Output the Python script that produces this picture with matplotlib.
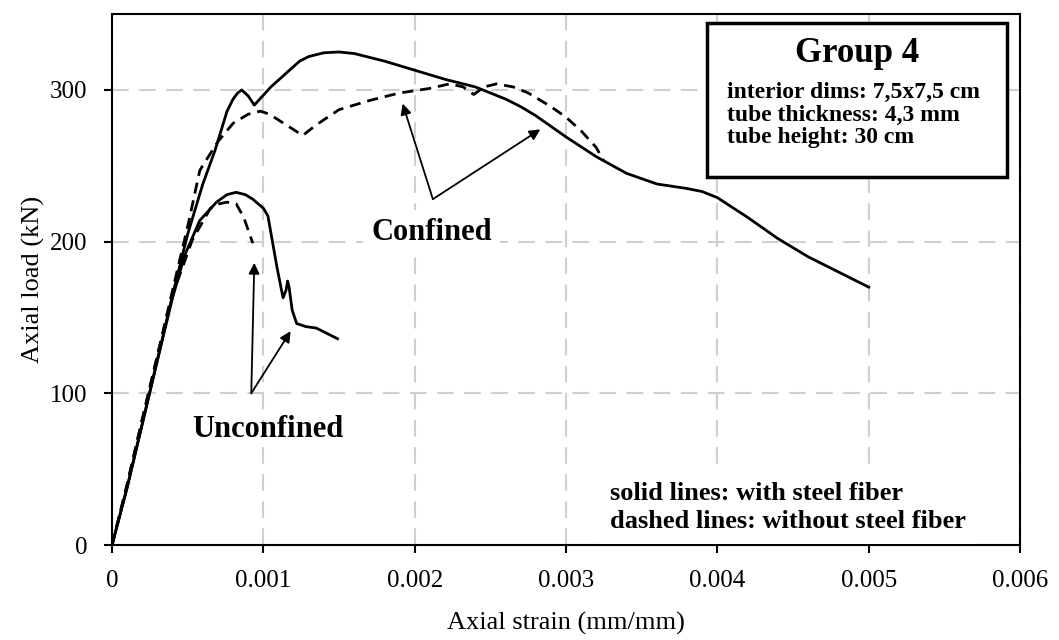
import matplotlib.pyplot as plt
from matplotlib.patches import Rectangle

plt.rcParams['font.family'] = ['Liberation Serif', 'DejaVu Serif']

# confined, with steel fiber (solid)
conf_sf_x = [0, 0.0001, 0.0002, 0.0003, 0.0004, 0.0005, 0.0006, 0.00068, 0.00076, 0.0008,
             0.00083, 0.000857, 0.0009, 0.00094, 0.00105, 0.00115, 0.00124, 0.0013, 0.0014,
             0.0015, 0.0016, 0.0018, 0.002, 0.0022, 0.0024, 0.0026, 0.0027, 0.0028, 0.003,
             0.0032, 0.0034, 0.0036, 0.0038, 0.0039, 0.004, 0.0042, 0.0044, 0.0046, 0.0048,
             0.005]
conf_sf_y = [0, 38, 80, 122, 165, 205, 238, 260, 286, 294,
             298, 300, 296, 290, 302, 311, 319, 322, 324.5,
             325, 324, 319, 313, 307, 302, 294, 289, 283, 269,
             256, 245, 238, 235, 233, 229, 216, 202, 190, 180,
             170]

# confined, without steel fiber (dashed)
conf_x = [0, 0.0001, 0.0002, 0.0003, 0.0004, 0.0005, 0.00058, 0.0007, 0.0008, 0.0009,
          0.00098, 0.00104, 0.00115, 0.00126, 0.00135, 0.0015, 0.0017, 0.0019, 0.0021,
          0.00223, 0.00232, 0.00239, 0.00246, 0.00254, 0.00265, 0.00275, 0.0029, 0.003,
          0.0031, 0.0032, 0.00325]
conf_y = [0, 40, 83, 125, 168, 210, 247, 266, 278, 284,
          286, 284, 277, 270, 277, 287, 293, 298, 301,
          304, 302, 297, 302, 304, 302, 298, 289, 282,
          273, 262, 253]

# unconfined, with steel fiber (solid)
unc_sf_x = [0, 0.0001, 0.0002, 0.0003, 0.0004, 0.00048, 0.00058, 0.00069, 0.00076, 0.00082,
            0.00088, 0.00093, 0.001, 0.00103, 0.00106, 0.00109, 0.00113, 0.00115, 0.00116,
            0.00117, 0.00119, 0.00122, 0.00128, 0.00135, 0.00149]
unc_sf_y = [0, 38, 80, 122, 163, 191, 214, 226, 231, 232.5,
            231, 228, 222, 217, 200, 183, 163, 168, 174,
            170, 155, 146, 144, 143, 136]

# unconfined, without steel fiber (dashed)
unc_x = [0, 0.0001, 0.0002, 0.0003, 0.0004, 0.00053, 0.00065, 0.00071, 0.00076, 0.00082,
         0.00087, 0.00093]
unc_y = [0, 40, 83, 125, 165, 201, 222, 225, 226, 225,
         216, 199]

xticks = [0, 0.001, 0.002, 0.003, 0.004, 0.005, 0.006]
xtick_labels = ['0', '0.001', '0.002', '0.003', '0.004', '0.005', '0.006']
yticks = [0, 100, 200, 300]

fig = plt.figure(figsize=(10.59, 6.40), dpi=100)
ax = fig.add_axes([0.1058, 0.1484, 0.8574, 0.8296])

lw = 2.0
ax.plot(conf_sf_x, conf_sf_y, color='black', lw=lw, zorder=3)
ax.plot(conf_x, conf_y, color='black', lw=lw, ls=(0, (4, 2.5)), zorder=3)
ax.plot(unc_sf_x, unc_sf_y, color='black', lw=lw, zorder=3)
ax.plot(unc_x, unc_y, color='black', lw=lw, ls=(0, (4, 2.5)), zorder=3)

ax.set_xlim(0, 0.006)
ax.set_ylim(0, 350)
ax.set_xticks(xticks)
ax.set_xticklabels(xtick_labels)
ax.set_yticks(yticks)
ax.tick_params(labelsize=18, length=6, width=1.5, direction='out', pad=12)
ax.grid(True, color='#cfcfcf', lw=1.5, ls=(0, (8, 5)))
ax.set_axisbelow(True)
for s in ax.spines.values():
    s.set_linewidth(1.5)

ax.set_xlabel('Axial strain (mm/mm)', fontsize=19, labelpad=14)
ax.set_ylabel('Axial load (kN)', fontsize=19, labelpad=3)

arrow = dict(arrowstyle='-|>', color='black', lw=1.3, mutation_scale=16, shrinkA=0, shrinkB=0)

# labels with arrows
ax.text(0.00211, 206, 'Confined', fontsize=22, fontweight='bold', ha='center', va='center',
        bbox=dict(facecolor='white', edgecolor='none', pad=6), zorder=4)
for tx, ty in [(0.00192, 291), (0.00283, 274)]:
    ax.annotate('', xy=(tx, ty), xytext=(0.00212, 228), arrowprops=arrow, zorder=5)

ax.text(0.00103, 76, 'Unconfined', fontsize=22, fontweight='bold', ha='center', va='center',
        zorder=4)
for tx, ty in [(0.00094, 186), (0.00118, 141)]:
    ax.annotate('', xy=(tx, ty), xytext=(0.00092, 100), arrowprops=arrow, zorder=5)

# info box
ax.add_patch(Rectangle((0.655, 0.693), 0.331, 0.29, transform=ax.transAxes,
                       facecolor='white', edgecolor='black', lw=2.5, zorder=4))
ax.text(0.8205, 0.926, 'Group 4', transform=ax.transAxes, fontsize=25, fontweight='bold',
        ha='center', va='center', zorder=5)
info = 'interior dims: 7,5x7,5 cm\ntube thickness: 4,3 mm\ntube height: 30 cm'
ax.text(0.677, 0.81, info, transform=ax.transAxes, fontsize=17, fontweight='bold',
        ha='left', va='center', linespacing=1.1, zorder=5)

ax.text(0.548, 0.07, 'solid lines: with steel fiber\ndashed lines: without steel fiber',
        transform=ax.transAxes, fontsize=19, fontweight='bold', ha='left', va='center',
        linespacing=1.28, bbox=dict(facecolor='white', edgecolor='none', pad=8), zorder=4)

fig.savefig('out.png', dpi=100)
